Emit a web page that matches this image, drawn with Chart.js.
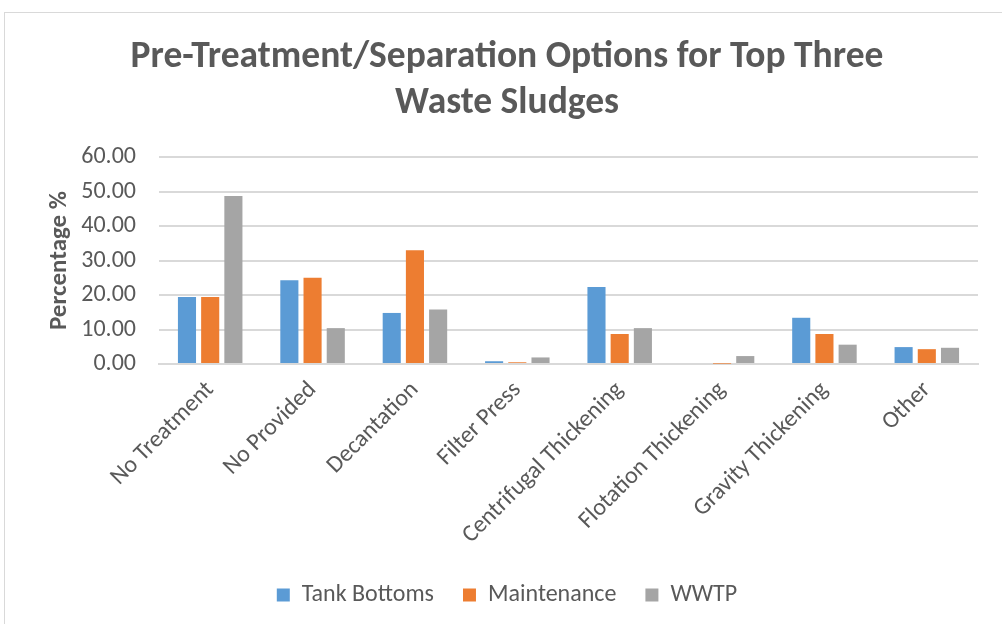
<!DOCTYPE html>
<html>
<head>
<meta charset="utf-8">
<script src="https://cdn.jsdelivr.net/npm/chart.js@4.4.1/dist/chart.umd.min.js"></script>
<style>
  html, body { margin: 0; padding: 0; background: #ffffff; overflow: hidden; }
  #wrap { position: relative; width: 1002px; height: 624px; }
  #frame { position: absolute; left: 4px; top: 12px; width: 1100px; height: 700px; border: 1px solid #d9d9d9; box-sizing: border-box; }
  canvas { position: absolute; left: 0; top: 0; }
</style>
</head>
<body>
<div id="wrap">
  <div id="frame"></div>
  <canvas id="chart" width="1002" height="624"></canvas>
</div>
<script>
const categories = ['No Treatment', 'No Provided', 'Decantation', 'Filter Press',
  'Centrifugal Thickening', 'Flotation Thickening', 'Gravity Thickening', 'Other'];
const tankBottoms = [19.4, 24.3, 14.8, 0.8, 22.3, 0.0, 13.4, 4.9];
const maintenance = [19.4, 25.0, 33.0, 0.5, 8.7, 0.1, 8.7, 4.3];
const wwtp = [48.7, 10.4, 15.8, 1.9, 10.4, 2.3, 5.6, 4.7];
const yTicks = [0, 10, 20, 30, 40, 50, 60];

const FONT = "Carlito, Lato, 'Open Sans', sans-serif";
const TEXT = '#595959';

new Chart(document.getElementById('chart'), {
  type: 'bar',
  data: {
    labels: categories,
    datasets: [
      { label: 'Tank Bottoms', data: tankBottoms, backgroundColor: '#5B9BD5' },
      { label: 'Maintenance', data: maintenance, backgroundColor: '#ED7D31' },
      { label: 'WWTP', data: wwtp, backgroundColor: '#A5A5A5' }
    ]
  },
  options: {
    responsive: false,
    animation: false,
    layout: { padding: { left: 36, right: 24, top: 0, bottom: 7 } },
    datasets: { bar: { categoryPercentage: 0.68, barPercentage: 0.78 } },
    plugins: {
      title: {
        display: true,
        text: ['Pre-Treatment/Separation Options for Top Three', 'Waste Sludges'],
        color: TEXT,
        font: { family: FONT, size: 37.5, weight: 'bold', lineHeight: 1.227 },
        padding: { top: 35, bottom: 30 }
      },
      legend: {
        position: 'bottom',
        labels: {
          color: TEXT,
          font: { family: FONT, size: 24 },
          boxWidth: 13, boxHeight: 13,
          padding: 29
        }
      },
      tooltip: { enabled: false }
    },
    scales: {
      x: {
        grid: { display: false },
        border: { color: '#d9d9d9', width: 2 },
        ticks: {
          color: TEXT,
          font: { family: FONT, size: 24 },
          maxRotation: 45, minRotation: 45,
          padding: 4
        },
        afterFit(scale) { scale.height = 190; }
      },
      y: {
        min: 0, max: 60,
        afterBuildTicks(scale) { scale.ticks = yTicks.map(v => ({ value: v })); },
        grid: { color: '#d9d9d9', lineWidth: 2, drawTicks: false },
        border: { display: false },
        ticks: {
          color: TEXT,
          font: { family: FONT, size: 24 },
          padding: 23,
          callback: v => Number(v).toFixed(2)
        },
        title: {
          display: true,
          text: 'Percentage %',
          color: TEXT,
          font: { family: FONT, size: 25, weight: 'bold', lineHeight: 1.2 },
          padding: { top: 9, bottom: 0 }
        },
        afterFit(scale) { scale.width = 123; }
      }
    }
  }
});
</script>
</body>
</html>
